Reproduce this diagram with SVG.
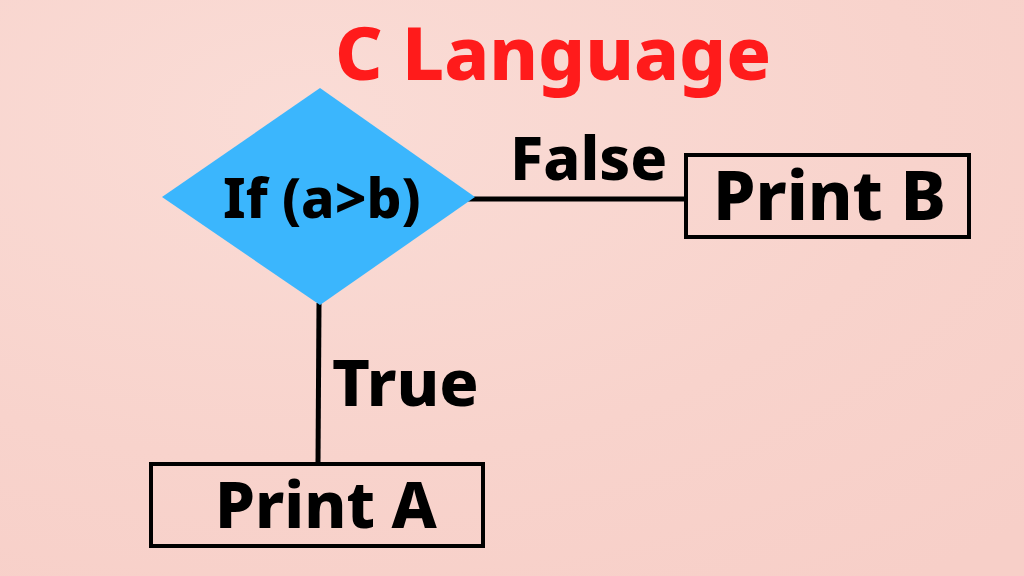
<svg xmlns="http://www.w3.org/2000/svg" width="1024" height="576" viewBox="0 0 1024 576">
<defs>
<radialGradient id="bg" cx="0.3" cy="0.2" r="1">
<stop offset="0" stop-color="#fadcd6"/>
<stop offset="0.6" stop-color="#f8d3cc"/>
<stop offset="1" stop-color="#f7cfc8"/>
</radialGradient>
<style>
.t{font-family:"Noto Sans","Open Sans","Liberation Sans",sans-serif;font-weight:800;fill:#000}
.box{fill:none;stroke:#000;stroke-width:4}
.conn{stroke:#000;stroke-width:5;fill:none}
</style>
</defs>
<rect width="1024" height="576" fill="url(#bg)"/>
<text class="t" x="335" y="80" font-size="74" style="fill:#ff1b1b">C Language</text>
<g id="connectors">
<line class="conn" x1="466" y1="199" x2="686" y2="199"/>
<line class="conn" x1="319" y1="303" x2="318" y2="464"/>
</g>
<g id="decision">
<polygon points="162,197 320,88 475,197 320,305" fill="#3bb6fd"/>
<text class="t" x="223" y="218" font-size="55">If (a&gt;b)</text>
</g>
<g id="printB">
<rect class="box" x="686" y="155" width="283" height="82"/>
<text class="t" x="713" y="220" font-size="68">Print B</text>
</g>
<g id="printA">
<rect class="box" x="151" y="464" width="332" height="82"/>
<text class="t" x="215" y="528" font-size="64">Print A</text>
</g>
<g id="labels">
<text class="t" x="510" y="180" font-size="61">False</text>
<text class="t" x="332" y="406" font-size="65">True</text>
</g>
</svg>
